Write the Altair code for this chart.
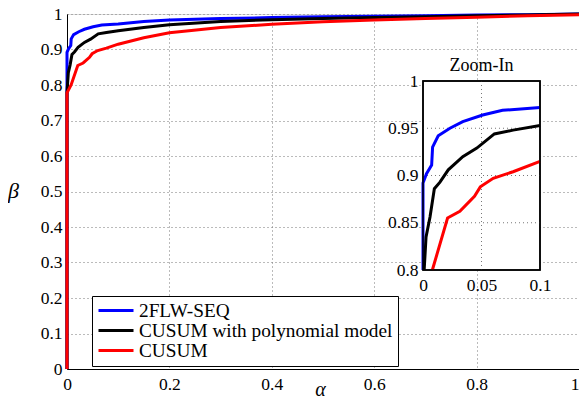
import altair as alt
import pandas as pd

# ---- data ----
names = ["2FLW-SEQ", "CUSUM with polynomial model", "CUSUM"]
colors = ["#0000ff", "#000000", "#ff0000"]

blue_alpha = [0, 0, 0, 0.003, 0.0074, 0.0082, 0.013, 0.023, 0.034, 0.051, 0.068, 0.1,
              0.15, 0.2, 0.3, 0.4, 0.5, 0.6, 0.7, 0.8, 0.9, 1.0]
blue_beta = [0, 0.8, 0.892, 0.902, 0.911, 0.930, 0.942, 0.950, 0.957, 0.964, 0.969, 0.972,
             0.979, 0.983, 0.987, 0.990, 0.992, 0.994, 0.995, 0.997, 0.998, 1.0]

black_alpha = [0, 0, 0.001, 0.0026, 0.006, 0.0097, 0.0145, 0.0216, 0.034, 0.046, 0.061, 0.077, 0.1,
               0.15, 0.2, 0.3, 0.4, 0.5, 0.6, 0.7, 0.8, 0.9, 1.0]
black_beta = [0, 0.78, 0.8, 0.835, 0.856, 0.886, 0.893, 0.906, 0.920, 0.929, 0.944, 0.948, 0.953,
              0.962, 0.970, 0.979, 0.984, 0.987, 0.990, 0.992, 0.995, 0.997, 1.0]

red_alpha = [0, 0, 0.008, 0.021, 0.0315, 0.044, 0.049, 0.06, 0.077, 0.1,
             0.15, 0.2, 0.3, 0.4, 0.5, 0.6, 0.7, 0.8, 0.9, 1.0]
red_beta = [0, 0.778, 0.8, 0.855, 0.862, 0.878, 0.888, 0.897, 0.904, 0.915,
            0.933, 0.947, 0.962, 0.971, 0.978, 0.983, 0.987, 0.991, 0.995, 0.998]

main_x_ticks = [0, 0.2, 0.4, 0.6, 0.8, 1]
main_y_ticks = [0, 0.1, 0.2, 0.3, 0.4, 0.5, 0.6, 0.7, 0.8, 0.9, 1]
inset_x_domain = [0, 0.1]
inset_y_domain = [0.8, 1]
inset_x_ticks = [0, 0.05, 0.1]
inset_y_ticks = [0.8, 0.85, 0.9, 0.95, 1]
inset_x_grid = [0.05]
inset_y_grid = [0.85, 0.9, 0.95]
inset_title = ["Zoom-In"]

FONT = "Liberation Serif, 'Times New Roman', 'DejaVu Serif', serif"

rows = []
k = 0
for name, xs, ys in zip(names, [blue_alpha, black_alpha, red_alpha], [blue_beta, black_beta, red_beta]):
    for a, b in zip(xs, ys):
        rows.append({"series": name, "alpha": a, "beta": b, "i": k})
        k += 1
df = pd.DataFrame(rows)

color_scale = alt.Scale(domain=names, range=colors)

# ---- main plot ----
main = alt.Chart(df).mark_line(strokeWidth=3).encode(
    x=alt.X("alpha:Q", scale=alt.Scale(domain=[0, 1], nice=False),
            axis=alt.Axis(values=main_x_ticks, format="~g", title="α", grid=True,
                          gridDash=[1, 3], gridColor="#777", ticks=False, labelFlush=False,
                          labelAlign=alt.ExprRef(expr="datum.value >= 1 ? 'right' : 'center'"),
                          labelFont=FONT, labelFontSize=17.5, labelColor="black",
                          labelPadding=6, domainColor="black",
                          titleFont=FONT, titleFontSize=20, titleFontStyle="italic",
                          titleFontWeight="normal", titleX=253, titleY=20,
                          titleBaseline="middle", titleColor="black")),
    y=alt.Y("beta:Q", scale=alt.Scale(domain=[0, 1], nice=False),
            axis=alt.Axis(values=main_y_ticks, format="~g", title="β", grid=True,
                          gridDash=[1, 3], gridColor="#777", ticks=False, labelFlush=False,
                          labelFont=FONT, labelFontSize=17.5, labelColor="black",
                          labelPadding=5, domainColor="black",
                          titleFont=FONT, titleFontSize=22, titleFontStyle="italic",
                          titleFontWeight="normal", titleAngle=0, titleX=-54, titleY=176,
                          titleAlign="center", titleBaseline="middle", titleColor="black")),
    color=alt.Color("series:N", scale=color_scale,
                    legend=alt.Legend(title=None, orient="none", legendX=25, legendY=282,
                                      symbolType="stroke", symbolSize=1225, symbolStrokeWidth=3,
                                      clipHeight=19,
                                      labelFont=FONT, labelFontSize=19.3, labelColor="black",
                                      labelOffset=4, rowPadding=0, padding=5,
                                      strokeColor="black", fillColor="white",
                                      labelLimit=400)),
    order=alt.Order("i:Q"),
)

# ---- inset ----
ix = alt.Scale(domain=inset_x_domain, range=[356, 473], nice=False, zero=False)
iy = alt.Scale(domain=inset_y_domain, range=[256, 67], nice=False, zero=False)

box_df = pd.DataFrame({"x0": [inset_x_domain[0]], "x1": [inset_x_domain[1]],
                       "y0": [inset_y_domain[0]], "y1": [inset_y_domain[1]]})
box = alt.Chart(box_df).mark_rect(fill="white", stroke="black", strokeWidth=1.5).encode(
    x=alt.X("x0:Q", scale=ix,
            axis=alt.Axis(values=inset_x_ticks, format="~g", title=None, grid=False,
                          ticks=False, domain=False, orient="bottom", offset=-99,
                          labelFlush=False,
                          labelFont=FONT, labelFontSize=17.5, labelColor="black",
                          labelPadding=6)),
    x2="x1:Q",
    y=alt.Y("y0:Q", scale=iy,
            axis=alt.Axis(values=inset_y_ticks, format="~g", title=None, grid=False,
                          ticks=False, domain=False, orient="left", offset=-356,
                          labelFlush=False,
                          labelFont=FONT, labelFontSize=17.5, labelColor="black",
                          labelPadding=5)),
    y2="y1:Q",
)

vgrid_df = pd.DataFrame({"v": inset_x_grid, "y0": inset_y_domain[0], "y1": inset_y_domain[1]})
vgrid = alt.Chart(vgrid_df).mark_rule(strokeDash=[1, 3], color="#777").encode(
    x=alt.X("v:Q", scale=ix), y=alt.Y("y0:Q", scale=iy), y2="y1:Q")

hgrid_df = pd.DataFrame({"v": inset_y_grid, "x0": inset_x_domain[0], "x1": inset_x_domain[1]})
hgrid = alt.Chart(hgrid_df).mark_rule(strokeDash=[1, 3], color="#777").encode(
    y=alt.Y("v:Q", scale=iy), x=alt.X("x0:Q", scale=ix), x2="x1:Q")

inset_lines = alt.Chart(df).transform_filter(
    "datum.alpha <= 0.1 && datum.beta >= 0.8"
).mark_line(strokeWidth=3).encode(
    x=alt.X("alpha:Q", scale=ix),
    y=alt.Y("beta:Q", scale=iy),
    color=alt.Color("series:N", scale=color_scale, legend=None),
    order=alt.Order("i:Q"),
)

frame = alt.Chart(box_df).mark_rect(fill=None, stroke="black", strokeWidth=1.5).encode(
    x=alt.X("x0:Q", scale=ix), x2="x1:Q", y=alt.Y("y0:Q", scale=iy), y2="y1:Q")

title_df = pd.DataFrame({"t": inset_title, "x": [sum(inset_x_domain) / 2], "y": [inset_y_domain[1]]})
ttl = alt.Chart(title_df).mark_text(font=FONT, fontSize=18, dy=-15, baseline="middle",
                                    color="black").encode(
    x=alt.X("x:Q", scale=ix), y=alt.Y("y:Q", scale=iy), text="t:N")

inset = alt.layer(box, vgrid, hgrid, inset_lines, frame, ttl)

chart = alt.layer(main, inset).resolve_scale(x="independent", y="independent").properties(
    width=512, height=355,
    autosize=alt.AutoSizeParams(type="none"),
    padding={"left": 59, "top": 6, "right": 0, "bottom": 30},
).configure_view(stroke="black", strokeWidth=1).configure(background="white")

chart.save("out.html", embed_options={"renderer": "svg", "actions": False})
